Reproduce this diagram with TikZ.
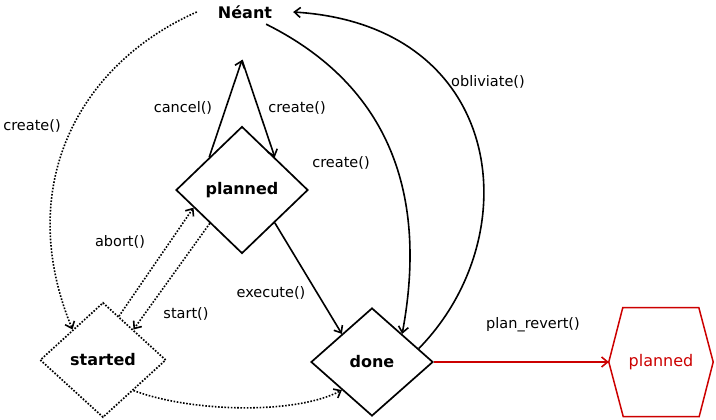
\documentclass[tikz,border=0pt]{standalone}
\usepackage{fontspec}
\setmainfont{DejaVu Sans}
\usetikzlibrary{shapes.geometric,arrows.meta}
\definecolor{revred}{RGB}{204,0,0}
\tikzset{
  state/.style={diamond,draw,line width=1.7pt,inner sep=0pt,font=\fontsize{16}{18}\selectfont\bfseries},
  lbl/.style={font=\fontsize{14.5}{16}\selectfont},
  trans/.style={line width=1.6pt,-{Straight Barb[length=6pt,width=10pt]}},
  dots/.style={dash pattern=on 1.6pt off 1.6pt}
}
\begin{document}
\begin{tikzpicture}[x=1pt,y=-1pt]
\useasboundingbox (0,0) rectangle (716,420);
% states
\node[font=\fontsize{16}{18}\selectfont\bfseries,minimum width=96pt,minimum height=24pt,inner sep=0pt] (neant) at (245,12) {Néant};
\node[state,minimum width=132pt,minimum height=127pt] (planned) at (242,190) {planned};
\node[state,dots,minimum width=126pt,minimum height=115pt] (started) at (103,360) {started};
\node[state,minimum width=122pt,minimum height=108pt] (done) at (372,362) {done};
\node[text=revred,font=\fontsize{16}{18}\selectfont,minimum width=104pt,minimum height=109pt,inner sep=0pt] (rev) at (661,362) {planned};
\draw[revred,line width=1.5pt] (rev.west)--++(14,-54.5)--++(76,0)--(rev.east)--++(-14,54.5)--++(-76,0)--cycle;
\coordinate (top) at (242,60);
% transitions
\draw[trans,dots] (neant.west) .. controls (77,65) and (14,188) .. (started.135);
\draw[trans] (planned.135) -- (top);
\draw[trans] (top) -- (planned.45);
\draw[trans] (neant.-30) .. controls (390,86) and (428,195) .. (done.43);
\draw[trans] (done.16) .. controls (530,235) and (505,25) .. (neant.east);
\draw[trans] (planned.-45) -- (done.137);
\draw[trans,dots] (started.70) -- (planned.200);
\draw[trans,dots] (planned.226) -- (started.45);
\draw[trans,dots] (started.-45) .. controls (190,412) and (295,415) .. (done.223);
\draw[trans,revred] (done.east) -- (rev.west);
% labels
\node[lbl] (l1) at (32,126) {create()};
\node[lbl] (l2) at (183,108) {cancel()};
\node[lbl] (l3) at (297,108) {create()};
\node[lbl] (l4) at (341,163) {create()};
\node[lbl] (l5) at (488,82) {obliviate()};
\node[lbl] (l6) at (120,242) {abort()};
\node[lbl] (l7) at (186,314) {start()};
\node[lbl] (l8) at (271,293) {execute()};
\node[lbl] (l9) at (533,325) {plan\_revert()};
\end{tikzpicture}
\end{document}
